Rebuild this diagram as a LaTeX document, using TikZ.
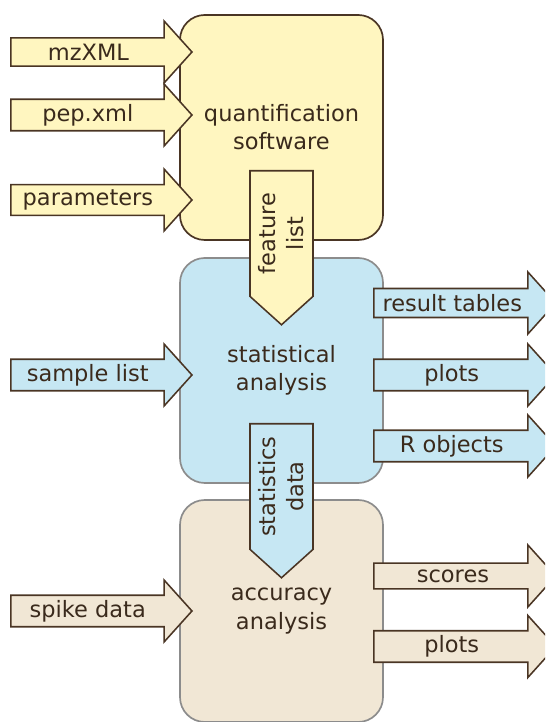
\documentclass[tikz,border=0pt]{standalone}
\usepackage{fontspec}
\setmainfont{DejaVu Sans}
\usetikzlibrary{shapes.arrows}

\definecolor{quantfill}{HTML}{FFF6C0}
\definecolor{statfill}{HTML}{C6E7F3}
\definecolor{accfill}{HTML}{F1E7D5}
\definecolor{edgedark}{HTML}{4A3524}
\definecolor{edgegrey}{HTML}{8C8C8C}
\definecolor{textbrown}{HTML}{3A2A1C}

\begin{document}
\begin{tikzpicture}[
  font=\fontsize{16}{20}\selectfont, text=textbrown,
  stage/.style={draw, rounded corners=0.62cm, line width=1.2pt, minimum width=5.075cm, align=center},
  flow/.style={single arrow, draw=edgedark, line width=1.1pt, single arrow tip angle=96, single arrow head extend=0.35cm, minimum width=1.55cm, inner sep=2pt},
  inflow/.style={flow, minimum height=4.525cm, anchor=tip, execute at end node={\hspace*{0.33cm}}},
  outflow/.style={flow, minimum height=4.55cm, anchor=tail, execute at end node={\hspace*{0.3cm}}},
  downflow/.style={flow, rotate=90, shape border rotate=180, single arrow head extend=0pt, minimum width=1.575cm, minimum height=3.85cm, align=center, anchor=tail}
]
\clip (0,0) rectangle (13.625,18.05);

% the three stages
\node[stage, fill=accfill, draw=edgegrey, minimum height=5.55cm] (acc) at (7.0375,2.775) {accuracy\\analysis};
\node[stage, fill=statfill, draw=edgegrey, minimum height=5.625cm] (stat) at (7.0375,8.7875) {statistical\\analysis};
\node[stage, fill=quantfill, draw=edgedark, minimum height=5.625cm] (quant) at (7.0375,14.8625) {quantification\\software};

% inputs
\node[inflow, fill=quantfill] (mzxml) at (4.825,16.75) {mzXML};
\node[inflow, fill=quantfill] (pepxml) at (4.825,15.175) {pep.xml};
\node[inflow, fill=quantfill] (params) at (4.825,13.05) {parameters};
\node[inflow, fill=statfill] (samples) at (4.825,8.675) {sample list};
\node[inflow, fill=accfill] (spike) at (4.825,2.775) {spike data};

% passed between stages
\node[downflow, fill=quantfill] (features) at (7.0375,13.8) {feature\\list};
\node[downflow, fill=statfill] (statsdata) at (7.0375,7.475) {statistics\\data};

% outputs
\node[outflow, fill=statfill] (tables) at (9.325,10.475) {result tables};
\node[outflow, fill=statfill] (statplots) at (9.325,8.675) {plots};
\node[outflow, fill=statfill] (robjects) at (9.325,6.9) {R objects};
\node[outflow, fill=accfill] (scores) at (9.325,3.65) {scores};
\node[outflow, fill=accfill] (accplots) at (9.325,1.8875) {plots};
\end{tikzpicture}
\end{document}
